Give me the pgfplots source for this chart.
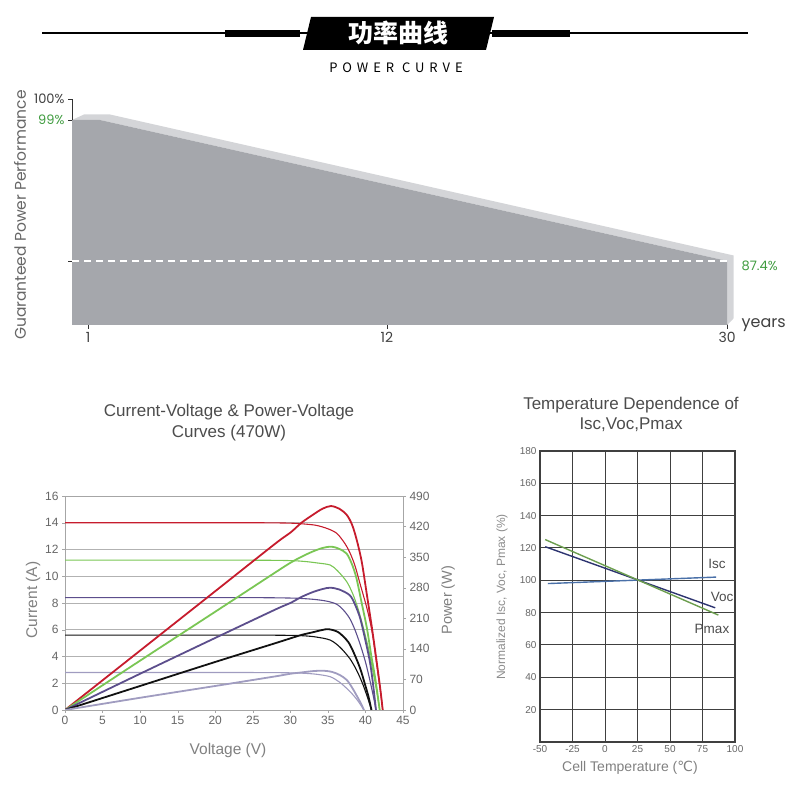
\documentclass[border=0pt]{standalone}
\usepackage{fontspec}
\setmainfont{Liberation Sans}
\newfontfamily\pop{Poppins}
\newfontfamily\cjk{Noto Sans CJK SC}
\newfontfamily\djv{DejaVu Sans}
\usepackage{pgfplots}
\pgfplotsset{compat=1.18}

\definecolor{areadark}{RGB}{165,167,172}
\definecolor{arealight}{RGB}{212,213,216}
\definecolor{okgreen}{RGB}{62,155,62}
\definecolor{ivred}{RGB}{198,28,45}
\definecolor{ivgreen}{RGB}{122,198,84}
\definecolor{ivpurple}{RGB}{92,78,140}
\definecolor{ivblack}{RGB}{17,17,17}
\definecolor{ivlav}{RGB}{160,156,192}
\definecolor{tisc}{RGB}{74,112,168}
\definecolor{tvoc}{RGB}{45,52,112}
\definecolor{tpm}{RGB}{108,158,78}
\newcommand\fs[1]{\fontsize{#1}{#1}\selectfont}

\begin{document}
\begin{tikzpicture}[x=1pt,y=1pt]
\path[use as bounding box] (0,0) rectangle (790,800);

% header
\draw[line width=1.3pt] (42,767) -- (748,767);
\fill (225,763) rectangle (300,770);
\fill (492,763) rectangle (570,770);
\fill (311,783) -- (494,783) -- (486,750) -- (303,750) -- cycle;
\node[white] at (398,767) {\cjk\bfseries\fs{25}功率曲线};
\node at (396,732) {\cjk\fs{13}\addfontfeature{LetterSpace=38}POWER CURVE};

% power warranty
\begin{axis}[
  at={(72pt,475pt)}, anchor=south west,
  scale only axis, width=656pt, height=230pt,
  x coord trafo/.code={\pgfmathparse{(#1>12)*(299+(#1-12)*18.89)+(1-(#1>12))*((#1-1)*27.18)}},
  y coord trafo/.code={\pgfmathparse{(#1>99)*(205+(#1-99)*21)+(1-(#1>99))*(205-(99-#1)*12.155)}},
  xmin=0.411, xmax=30.05, ymin=82.13, ymax=100.19,
  clip=false,
  axis x line*=bottom, axis y line*=left,
  y axis line style={draw=none},
  x axis line style={line width=1pt, black!80},
  xtick={1,12,30}, xticklabels={1,12,30},
  ytick={87.4,99,100}, yticklabels={,\textcolor{okgreen}{99\%},100\%},
  tick align=outside, major tick length=4pt,
  tick style={black!80, line width=0.8pt},
  tick label style={font=\pop\fs{13}, text=black!75},
  xticklabel style={font=\pop\fs{14}},
]
\addplot[fill=arealight, draw=none] coordinates {(0.411,99)(0.853,99.262)(1.809,99.262)(30.343,87.852)(30.343,82.669)(30,82.13)(30,87.4)(1.441,99)} -- cycle;
\addplot[fill=areadark, draw=none] coordinates {(0.411,99)(1.441,99)(30,87.4)(30,82.13)(0.411,82.13)} -- cycle;
\addplot[white, line width=1.4pt, dash pattern=on 7pt off 5pt] coordinates {(0.411,87.4)(30,87.4)};
\draw[black!80, line width=0.8pt] (axis cs:0.411,99) -- (axis cs:0.411,100);
\node[anchor=west, text=okgreen, font=\pop\fs{13}, xshift=11pt, yshift=-5pt] at (axis cs:30,87.4) {87.4\%};
\node[anchor=west, text=black!75, font=\pop\fs{16}, xshift=11pt] at (axis cs:30,82.13) {years};
\end{axis}
\node[rotate=90, text=black!60, font=\pop\fs{15.5}] at (20,585) {Guaranteed Power Performance};

% I-V curves
\begin{axis}[
  at={(65pt,90pt)}, anchor=south west,
  scale only axis, width=338pt, height=214pt,
  xmin=0, xmax=45, ymin=0, ymax=16,
  xtick={0,5,...,45}, ytick={0,2,...,16},
  xtick pos=left, ytick pos=left,
  ymajorgrids, grid style={gray!60, line width=0.9pt},
  axis line style={gray!70, line width=0.9pt},
  tick align=outside, major tick length=3pt, tick style={gray!70},
  tick label style={font=\fs{12}, text=black!60},
  /pgf/number format/assume math mode=true,
  every axis plot/.append style={smooth, line width=1.1pt},
]
\addplot[ivred] coordinates {(0,14)(12,14)(25,14)(30,13.97)(32,13.9)(33.5,13.8)(35,13.55)(36.2,13.2)(37.2,12.5)(37.9,11.8)(38.6,10.8)(39.3,9.4)(40.2,7.6)(40.9,5.8)(41.5,3.4)(42,1.4)(42.3,0)};
\addplot[ivgreen] coordinates {(0,11.2)(12,11.2)(25,11.2)(30,11.17)(32,11.1)(33.5,11.0)(35.3,10.84)(36.3,10.4)(37.5,9.6)(38.3,8.7)(39,7.6)(39.7,6.2)(40.4,4.6)(41,2.9)(41.5,1.4)(41.9,0)};
\addplot[ivpurple] coordinates {(0,8.4)(12,8.4)(25,8.4)(30,8.37)(32,8.32)(33.5,8.25)(35,8.12)(36.2,7.9)(37.1,7.45)(37.9,6.85)(38.6,6.0)(39.3,4.9)(40,3.6)(40.6,2.2)(41.1,0.9)(41.4,0)};
\addplot[ivblack] coordinates {(0,5.6)(12,5.6)(25,5.6)(30,5.58)(32,5.54)(33.5,5.45)(35.3,5.23)(36.6,4.7)(37.9,3.86)(38.8,3.0)(39.6,2.0)(40.3,0.9)(40.8,0)};
\addplot[ivlav] coordinates {(0,2.8)(12,2.8)(25,2.8)(30,2.78)(32,2.74)(33.5,2.67)(35.3,2.49)(36.5,2.1)(37.5,1.62)(38.4,1.1)(39.1,0.6)(39.8,0)};
\end{axis}

% P-V curves
\begin{axis}[
  at={(65pt,90pt)}, anchor=south west,
  scale only axis, width=338pt, height=214pt,
  xmin=0, xmax=45, ymin=0, ymax=490,
  axis x line=none, axis y line*=right,
  ytick={0,70,...,490},
  axis line style={gray!70, line width=0.9pt},
  tick align=outside, major tick length=3pt, tick style={gray!70},
  tick label style={font=\fs{12}, text=black!60},
  /pgf/number format/assume math mode=true,
  every axis plot/.append style={smooth, line width=1.8pt},
]
\addplot[ivred] coordinates {(0,0)(10,136)(20,272)(28,381)(30,406)(31.5,429)(33,447)(34.3,461)(35.4,467)(36.5,461)(37.5,447)(38.2,425)(38.8,392)(39.5,340)(40.2,263)(40.9,184)(41.5,110)(42,45)(42.3,0)};
\addplot[ivgreen] coordinates {(0,0)(10,113)(20,225)(28,315)(30,337)(31.5,351)(33,363)(34.3,371)(35.5,374)(36.5,369)(37.5,358)(38.2,334)(38.8,302)(39.5,245)(40.2,187)(40.8,122)(41.3,73)(41.9,0)};
\addplot[ivpurple] coordinates {(0,0)(10,83)(20,165)(28,230)(30,245)(31.5,259)(33,270)(34.3,277)(35.3,280)(36.5,276)(37.9,263)(38.6,242)(39.3,210)(40,159)(40.6,110)(41,61)(41.4,0)};
\addplot[ivblack] coordinates {(0,0)(10,55)(20,110)(28,153)(30,164)(31.5,172)(33,178)(34.2,183)(35.1,185)(36.4,178)(37.7,156)(38.5,129)(39.3,95)(39.9,61)(40.4,31)(40.8,0)};
\addplot[ivlav] coordinates {(0,0)(10,28)(20,55)(28,77)(30,83)(31.5,86)(33,89)(34.4,90)(35.6,87)(36.6,80)(37.5,69)(38.2,52)(38.8,34)(39.4,15)(39.8,0)};
\end{axis}
\node[text=black!70, font=\fs{17}, align=center] at (229,377) {Current-Voltage \& Power-Voltage\\[4pt]Curves (470W)};
\node[text=black!50, font=\fs{15.5}] at (228,50) {Voltage (V)};
\node[rotate=90, text=black!50, font=\fs{15.5}] at (33,200) {Current (A)};
\node[rotate=90, text=black!50, font=\fs{14.5}] at (448,200) {Power (W)};

% temperature dependence
\begin{axis}[
  at={(540pt,58pt)}, anchor=south west,
  scale only axis, width=195pt, height=291pt,
  xmin=-50, xmax=100, ymin=0, ymax=180,
  xtick={-50,-25,...,100}, xticklabels={-50,-25,0,25,50,75,100},
  ytick={20,40,...,180},
  grid=major, grid style={black!75, line width=1pt},
  axis line style={black!75, line width=1.2pt},
  major tick length=0pt,
  tick label style={font=\fs{10}, text=black!60},
  /pgf/number format/assume math mode=true,
]
\addplot[tisc, line width=1.4pt] coordinates {(-44,98)(85.5,102)};
\addplot[tvoc, line width=1.4pt] coordinates {(-46,120.8)(84.8,83)};
\addplot[tpm, line width=1.4pt] coordinates {(-46,125.2)(87.2,78.5)};
\node[text=black!70, font=\fs{13.5}] at (axis cs:86.2,110) {Isc};
\node[text=black!70, font=\fs{13.5}] at (axis cs:90,89.7) {Voc};
\node[text=black!70, font=\fs{13.5}] at (axis cs:82.3,69.9) {Pmax};
\end{axis}
\node[text=black!70, font=\fs{17}, align=center] at (631,386) {Temperature Dependence of\\[3pt]Isc,Voc,Pmax};
\node[text=black!50, font=\fs{14}] at (630,32) {Cell Temperature ({\djv ℃})};
\node[rotate=90, text=black!45, font=\fs{12}] at (502,203) {Normalized Isc, Voc, Pmax (\%)};
\end{tikzpicture}
\end{document}
